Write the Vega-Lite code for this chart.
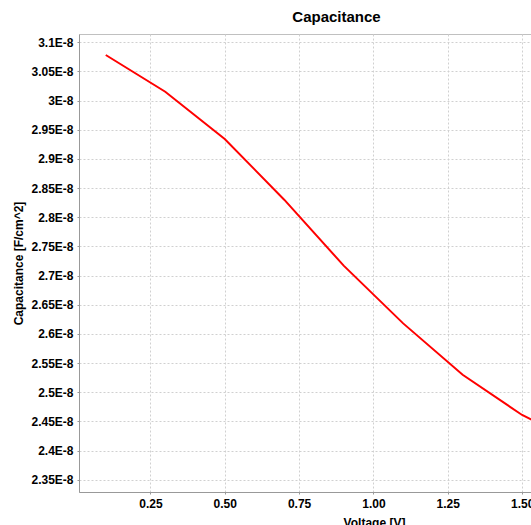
{
  "$schema": "https://vega.github.io/schema/vega-lite/v6.json",
  "autosize": "none",
  "padding": {"left": 79, "top": 34, "right": 0, "bottom": 33},
  "width": 453,
  "height": 458,
  "background": "white",
  "title": {"text": "Capacitance", "font": "Liberation Sans", "fontSize": 15, "fontWeight": "bold", "color": "#000000", "dx": 31, "offset": 9},
  "config": {
    "view": {"stroke": "#c0c0c0", "strokeWidth": 1},
    "axis": {
      "labelFont": "Liberation Sans", "labelFontSize": 12, "labelFontWeight": "bold", "labelColor": "#000000",
      "titleFont": "Liberation Sans", "titleFontSize": 12, "titleFontWeight": "bold", "titleColor": "#000000",
      "domainColor": "#999999", "tickColor": "#999999", "tickSize": 2, "labelPadding": 4,
      "gridColor": "#d0d0d0", "gridDash": [2, 2], "gridWidth": 1
    }
  },
  "data": {"values": [
    {"voltage": 0.1, "capacitance": 3.078e-8},
    {"voltage": 0.3, "capacitance": 3.015e-8},
    {"voltage": 0.5, "capacitance": 2.934e-8},
    {"voltage": 0.7, "capacitance": 2.830e-8},
    {"voltage": 0.9, "capacitance": 2.717e-8},
    {"voltage": 1.1, "capacitance": 2.618e-8},
    {"voltage": 1.3, "capacitance": 2.530e-8},
    {"voltage": 1.5, "capacitance": 2.461e-8},
    {"voltage": 1.7, "capacitance": 2.410e-8},
    {"voltage": 1.9, "capacitance": 2.365e-8}
  ]},
  "mark": {"type": "line", "color": "#ff0000", "strokeWidth": 2, "clip": true},
  "encoding": {
    "x": {
      "field": "voltage", "type": "quantitative",
      "scale": {"domain": [0.01, 1.5332], "nice": false, "zero": false},
      "axis": {"title": "Voltage [V]", "values": [0.25, 0.5, 0.75, 1.0, 1.25, 1.5], "format": ".2f", "titleX": 295, "titlePadding": 8, "labelFlush": false}
    },
    "y": {
      "field": "capacitance", "type": "quantitative",
      "scale": {"domain": [2.329e-8, 3.114e-8], "nice": false, "zero": false},
      "axis": {
        "title": "Capacitance [F/cm^2]",
        "values": [2.35e-8, 2.4e-8, 2.45e-8, 2.5e-8, 2.55e-8, 2.6e-8, 2.65e-8, 2.7e-8, 2.75e-8, 2.8e-8, 2.85e-8, 2.9e-8, 2.95e-8, 3.0e-8, 3.05e-8, 3.1e-8],
        "labelExpr": "format(datum.value * 1e8, '.2~f') + 'E-8'",
        "titleX": -61, "titleY": 229, "titleAngle": 270, "titleAlign": "center", "titleBaseline": "middle",
        "labelFlush": false
      }
    }
  }
}
